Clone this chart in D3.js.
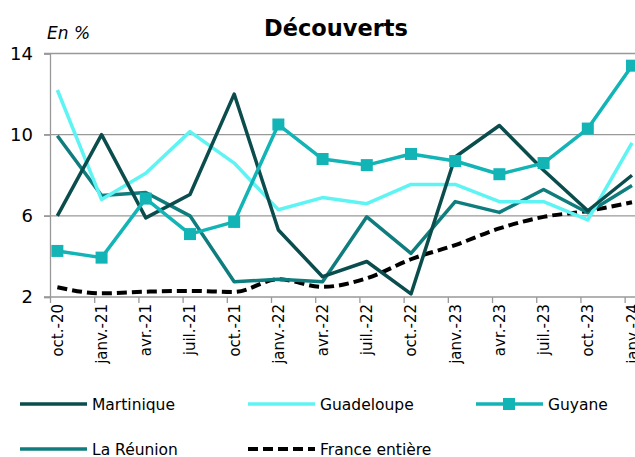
<!DOCTYPE html>
<html>
<head>
<meta charset="utf-8">
<script src="https://cdn.jsdelivr.net/npm/d3@7"></script>
<style>
  body { margin: 0; background: #fff; }
  svg { font-family: "DejaVu Sans", sans-serif; }
</style>
</head>
<body>
<svg id="chart" width="635" height="457"></svg>
<script>
// quarterly dates, one label per quarter
var categories = ["oct.-20", "janv.-21", "avr.-21", "juil.-21", "oct.-21", "janv.-22", "avr.-22",
    "juil.-22", "oct.-22", "janv.-23", "avr.-23", "juil.-23", "oct.-23", "janv.-24"];

var martinique = [6.0, 10.0, 5.9, 7.05, 12.0, 5.3, 3.0, 3.75, 2.15, 8.9, 10.45, 8.25, 6.25, 8.0];
var guadeloupe = [12.2, 6.8, 8.1, 10.15, 8.6, 6.3, 6.9, 6.6, 7.55, 7.55, 6.7, 6.7, 5.8, 9.6];
var guyane = [4.27, 3.94, 6.85, 5.1, 5.7, 10.5, 8.8, 8.5, 9.05, 8.7, 8.05, 8.6, 10.3, 13.4];
var reunion = [9.95, 7.0, 7.15, 6.0, 2.75, 2.87, 2.75, 5.95, 4.15, 6.7, 6.17, 7.3, 6.15, 7.5];
var france = [2.48, 2.18, 2.26, 2.3, 2.25, 2.87, 2.5, 2.92, 3.86, 4.56, 5.38, 5.95, 6.24, 6.67];

var yTicks = [2, 6, 10, 14];

var series = [
    { name: "Martinique", values: martinique, color: "#0b4d4d" },
    { name: "Guadeloupe", values: guadeloupe, color: "#5ff4f4" },
    { name: "Guyane", values: guyane, color: "#12b4b6", marker: true },
    { name: "La Réunion", values: reunion, color: "#0f7d7e" },
    { name: "France entière", values: france, color: "#000", dashed: true }
];

var svg = d3.select("#chart");

// date axis in months: each quarter is 3 months, points sit mid-month
var x = d3.scaleLinear().domain([-0.5, 39]).range([50, 632]);
var y = d3.scaleLinear().domain([2, 14]).range([297, 53.5]);
function xi(i) { return x(i * 3); }

svg.append("text")
    .attr("x", 336).attr("y", 36)
    .attr("text-anchor", "middle")
    .attr("font-size", 22.5).attr("font-weight", "bold")
    .text("Découverts");

svg.append("text")
    .attr("x", 47).attr("y", 39)
    .attr("font-size", 17).attr("font-style", "italic")
    .text("En %");

// gridlines
svg.append("g").selectAll("line")
    .data(yTicks.slice(1))
    .join("line")
    .attr("x1", 44).attr("x2", 640)
    .attr("y1", function (d) { return y(d); })
    .attr("y2", function (d) { return y(d); })
    .attr("stroke", "#999").attr("stroke-width", 1.3);

// y axis
var yAxis = svg.append("g")
    .attr("transform", "translate(50,0)")
    .call(d3.axisLeft(y).tickValues(yTicks).tickSize(6).tickPadding(11));
yAxis.select(".domain").attr("stroke", "#999").attr("stroke-width", 1.3);
yAxis.selectAll(".tick line").attr("stroke", "#999").attr("stroke-width", 1.3);
yAxis.selectAll(".tick text").attr("font-size", 18).attr("fill", "#000")
    .attr("font-family", "DejaVu Sans, sans-serif");

// x axis: ticks between quarters, labels under the points
var tickMonths = d3.range(14).map(function (i) { return i * 3 - 0.5; });
var xAxis = svg.append("g")
    .attr("transform", "translate(0,297)")
    .call(d3.axisBottom(x).tickValues(tickMonths).tickSize(6).tickFormat(""));
xAxis.select(".domain").remove();
xAxis.append("line").attr("x1", 44).attr("x2", 640)
    .attr("stroke", "#999").attr("stroke-width", 1.3);
xAxis.selectAll(".tick line").attr("stroke", "#999").attr("stroke-width", 1.3);

svg.append("g").selectAll("text")
    .data(categories)
    .join("text")
    .attr("transform", function (d, i) { return "translate(" + (xi(i) + 5.5) + ",304) rotate(-90)"; })
    .attr("text-anchor", "end")
    .attr("font-size", 15)
    .text(function (d) { return d; });

// lines
var line = d3.line()
    .x(function (d, i) { return xi(i); })
    .y(function (d) { return y(d); });
var smooth = d3.line()
    .x(function (d, i) { return xi(i); })
    .y(function (d) { return y(d); })
    .curve(d3.curveMonotoneX);

var order = [4, 3, 1, 0, 2];
order.forEach(function (k) {
    var s = series[k];
    svg.append("path")
        .attr("d", (s.dashed ? smooth : line)(s.values))
        .attr("fill", "none")
        .attr("stroke", s.color)
        .attr("stroke-width", s.dashed ? 4 : 3.5)
        .attr("stroke-dasharray", s.dashed ? "10,5" : null)
        .attr("stroke-linejoin", "round");
    if (s.marker) {
        svg.append("g").selectAll("rect")
            .data(s.values)
            .join("rect")
            .attr("x", function (d, i) { return xi(i) - 6; })
            .attr("y", function (d) { return y(d) - 6; })
            .attr("width", 12).attr("height", 12)
            .attr("fill", s.color);
    }
});

// legend
var legendPos = [[20, 404], [248, 404], [476, 404], [20, 449], [248, 449]];
series.forEach(function (s, k) {
    var g = svg.append("g")
        .attr("transform", "translate(" + legendPos[k][0] + "," + legendPos[k][1] + ")");
    g.append("line")
        .attr("x1", 0).attr("x2", 67)
        .attr("stroke", s.color)
        .attr("stroke-width", s.dashed ? 4 : 3.5)
        .attr("stroke-dasharray", s.dashed ? "10,5" : null);
    if (s.marker) {
        g.append("rect").attr("x", 27).attr("y", -6).attr("width", 12).attr("height", 12)
            .attr("fill", s.color);
    }
    g.append("text")
        .attr("x", 72).attr("y", 5.5)
        .attr("font-size", 15.5)
        .text(s.name);
});
</script>
</body>
</html>
